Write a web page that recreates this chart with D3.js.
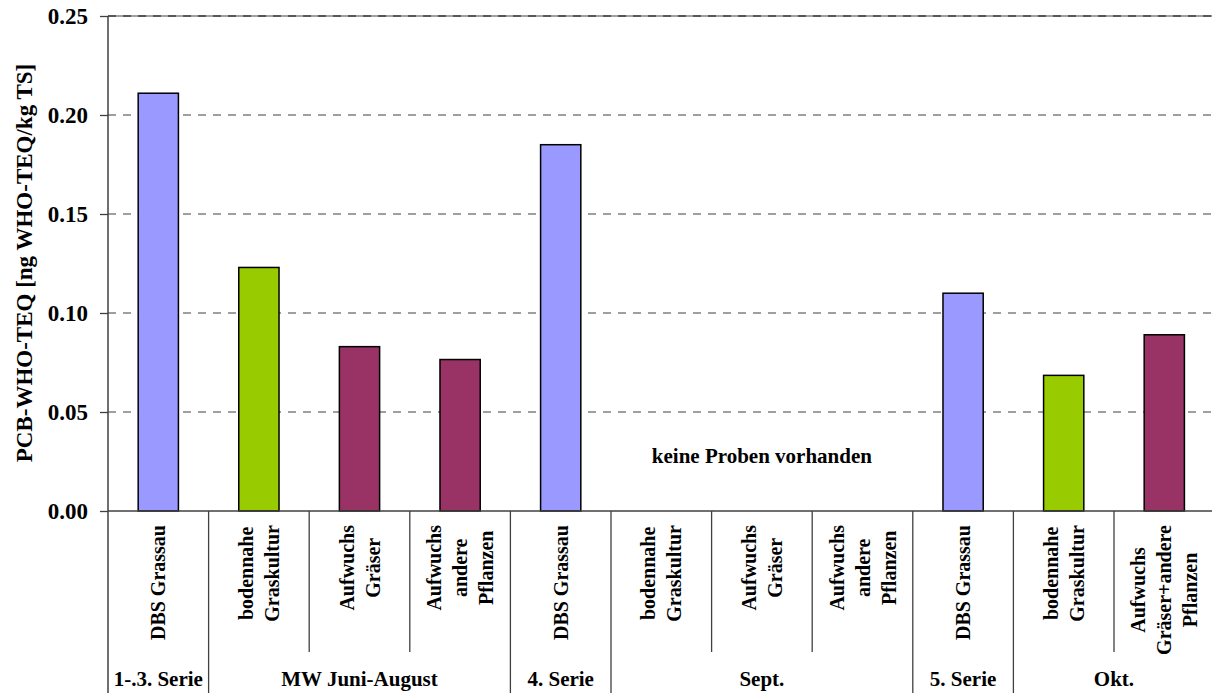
<!DOCTYPE html>
<html><head><meta charset="utf-8">
<script src="https://cdn.jsdelivr.net/npm/d3@7"></script>
<style>body{margin:0;background:#fff}svg{display:block}text{font-family:"Liberation Serif","Times New Roman",serif;font-weight:bold;fill:#000}</style>
</head><body>
<svg id="c" width="1212" height="693"></svg>
<script>
const categories = ["DBS Grassau","bodennahe\nGraskultur","Aufwuchs\nGräser","Aufwuchs\nandere\nPflanzen","DBS Grassau","bodennahe\nGraskultur","Aufwuchs\nGräser","Aufwuchs\nandere\nPflanzen","DBS Grassau","bodennahe\nGraskultur","Aufwuchs\nGräser+andere\nPflanzen"];
const values = [0.211,0.123,0.083,0.0765,0.185,null,null,null,0.110,0.0685,0.089];
const barTypes = ["dbs","boden","aufwuchs","aufwuchs","dbs","boden","aufwuchs","aufwuchs","dbs","boden","aufwuchs"];
const groups = [{label:"1-.3. Serie",start:0,end:0},{label:"MW Juni-August",start:1,end:3},{label:"4. Serie",start:4,end:4},{label:"Sept.",start:5,end:7},{label:"5. Serie",start:8,end:8},{label:"Okt.",start:9,end:10}];
const yTicks = [0,0.05,0.10,0.15,0.20,0.25];
const colors = {dbs:"#9999FF",boden:"#99CC00",aufwuchs:"#993366"};
const yTitle = "PCB-WHO-TEQ [ng WHO-TEQ/kg TS]";
const note = "keine Proben vorhanden";

const svg = d3.select("#c");
const pLeft=108, pRight=1214.6, pTop=16, pBottom=511;
const x = d3.scaleBand().domain(d3.range(categories.length)).range([pLeft,pRight]).paddingInner(0).paddingOuter(0);
const y = d3.scaleLinear().domain([0,0.25]).range([pBottom,pTop]);
const step = x.step();

// gridlines
svg.append("g").selectAll("line").data(yTicks.filter(t=>t>0)).join("line")
  .attr("x1",pLeft).attr("x2",1212).attr("y1",d=>y(d)).attr("y2",d=>y(d))
  .attr("stroke","#808080").attr("stroke-width",1.3).attr("stroke-dasharray",d=>d===0.25?null:"8,7");
svg.append("line").attr("x1",pLeft).attr("x2",1212).attr("y1",y(0.25)).attr("y2",y(0.25))
  .attr("stroke","#404040").attr("stroke-width",1.3).attr("stroke-dasharray","8,7");

// y axis
const yAxis = d3.axisLeft(y).tickValues(yTicks).tickFormat(d3.format(".2f")).tickSize(8).tickPadding(12);
const ga = svg.append("g").attr("transform",`translate(${pLeft},0)`).call(yAxis);
ga.select(".domain").remove();
ga.selectAll(".tick line").attr("stroke","#404040").attr("stroke-width",1.3);
ga.selectAll(".tick text").attr("font-size",23).attr("font-family","Liberation Serif").attr("font-weight","bold").attr("fill","#000");

// bars
svg.append("g").selectAll("rect").data(values.map((v,i)=>({v,i})).filter(d=>d.v!=null)).join("rect")
  .attr("x",d=>x(d.i)+step*0.3).attr("width",step*0.4)
  .attr("y",d=>y(d.v)).attr("height",d=>y(0)-y(d.v))
  .attr("fill",d=>colors[barTypes[d.i]]).attr("stroke","#000").attr("stroke-width",1.5);

// axes lines
svg.append("line").attr("x1",pLeft).attr("x2",pLeft).attr("y1",pTop).attr("y2",693).attr("stroke","#404040").attr("stroke-width",1.5);
svg.append("line").attr("x1",pLeft).attr("x2",1212).attr("y1",pBottom).attr("y2",pBottom).attr("stroke","#404040").attr("stroke-width",1.5);

// category dividers
const groupStarts = new Set(groups.map(g=>g.start));
const divs = d3.range(1,categories.length+1);
svg.append("g").selectAll("line").data(divs).join("line")
  .attr("x1",i=>pLeft+i*step).attr("x2",i=>pLeft+i*step)
  .attr("y1",pBottom).attr("y2",i=>(groupStarts.has(i)||i===categories.length)?693:652)
  .attr("stroke","#404040").attr("stroke-width",1.3);

// category labels
const fs=20, lh=26, topY=525;
categories.forEach((c,i)=>{
  const lines=c.split("\n");
  const cx=x(i)+step/2;
  const g=svg.append("g");
  const ts=lines.map((l,k)=>g.append("text").attr("font-size",fs).attr("text-anchor","middle").text(l));
  const maxLen=d3.max(ts,t=>t.node().getComputedTextLength());
  ts.forEach((t,k)=>{
    const off=(k-(lines.length-1)/2)*lh;
    t.attr("transform",`translate(${cx+off},${topY+maxLen/2}) rotate(-90)`).attr("dy","0.35em");
  });
});

// group labels
svg.append("g").selectAll("text").data(groups).join("text")
  .attr("x",g=>(x(g.start)+x(g.end)+step)/2).attr("y",686)
  .attr("text-anchor","middle").attr("font-size",21).text(g=>g.label);

// y title
svg.append("text").attr("transform",`translate(32,263) rotate(-90)`).attr("text-anchor","middle")
  .attr("font-size",23).text(yTitle);

// note
svg.append("text").attr("x",(x(5)+x(7)+step)/2).attr("y",463).attr("text-anchor","middle").attr("font-size",21).text(note);
</script>
</body></html>
